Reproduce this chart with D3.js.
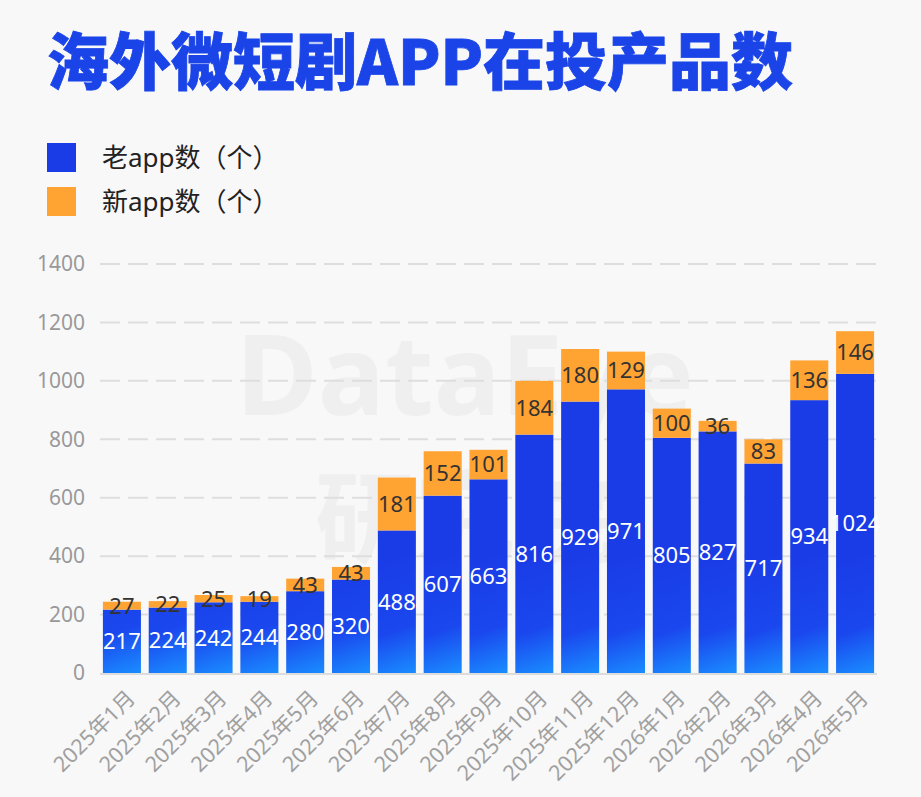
<!DOCTYPE html>
<html>
<head>
<meta charset="utf-8">
<script src="https://cdn.jsdelivr.net/npm/d3@7"></script>
<style>
  html, body { margin: 0; padding: 0; background: #f8f8f9; }
  svg { display: block; font-family: "Noto Sans", "Noto Sans CJK SC", sans-serif; }
</style>
</head>
<body>
<svg id="chart" width="921" height="797"></svg>
<script>
const categories = ["2025年1月","2025年2月","2025年3月","2025年4月","2025年5月","2025年6月","2025年7月","2025年8月","2025年9月","2025年10月","2025年11月","2025年12月","2026年1月","2026年2月","2026年3月","2026年4月","2026年5月"];
const oldApps = [217,224,242,244,280,320,488,607,663,816,929,971,805,827,717,934,1024];
const newApps = [27,22,25,19,43,43,181,152,101,184,180,129,100,36,83,136,146];
const yTicks = [0,200,400,600,800,1000,1200,1400];
const seriesNames = ["老app数（个）","新app数（个）"];
const title = "海外微短剧APP在投产品数";

const BLUE = "#1a3ce6", BLUE_LIGHT = "#1a8dff", ORANGE = "#ffa333";
const FONT = '"Noto Sans", "Noto Sans CJK SC", sans-serif';

const svg = d3.select("#chart");
svg.append("rect").attr("width", 921).attr("height", 797).attr("fill", "#f8f8f9");

// watermark
const wm = svg.append("g").attr("fill", "#000").attr("opacity", 0.03)
  .attr("font-family", FONT).attr("font-weight", 700).attr("text-anchor", "middle");
wm.append("text").attr("x", 465).attr("y", 415).attr("font-size", 112).text("DataEye");
wm.append("text").attr("x", 465).attr("y", 555).attr("font-size", 100).attr("font-family", "Noto Sans CJK SC").text("研究院");

// title
svg.append("text").attr("x", 47).attr("y", 85).attr("font-size", 62).attr("font-weight", 900)
  .attr("font-family", "Noto Sans CJK SC").attr("fill", "#1a44e8")
  .attr("stroke", "#1a44e8").attr("stroke-width", 0.8).text(title);

// legend
const legend = svg.append("g");
[BLUE, ORANGE].forEach((c, i) => {
  const g = legend.append("g").attr("transform", `translate(47, ${143 + i * 44})`);
  g.append("rect").attr("width", 29).attr("height", 29).attr("fill", c);
  g.append("text").attr("x", 55).attr("y", 15).attr("dy", "0.36em").attr("font-size", 26)
    .attr("fill", "#222").text(seriesNames[i]);
});

const x = d3.scaleBand().domain(categories).range([99, 878]).paddingInner(0.17).paddingOuter(0.085);
const y = d3.scaleLinear().domain([0, 1400]).range([673, 264]);

// gridlines
const grid = svg.append("g");
grid.selectAll("line").data(yTicks.filter(d => d > 0)).join("line")
  .attr("x1", 100).attr("x2", 877).attr("y1", d => y(d)).attr("y2", d => y(d))
  .attr("stroke", "#dedede").attr("stroke-width", 2).attr("stroke-dasharray", "20,8");

// y axis labels
const yAxis = svg.append("g").attr("transform", "translate(100,0)")
  .call(d3.axisLeft(y).tickValues(yTicks).tickFormat(d3.format("d")).tickSize(0).tickPadding(15));
yAxis.select(".domain").remove();
yAxis.selectAll("text").attr("font-size", 21).attr("fill", "#999").attr("font-family", FONT);

// gradients
const defs = svg.append("defs");
categories.forEach((c, i) => {
  const x0 = x(c), w = x.bandwidth();
  const g = defs.append("linearGradient").attr("id", "g" + i).attr("gradientUnits", "userSpaceOnUse")
    .attr("x1", x0).attr("y1", y(0) - 110).attr("x2", x0 + w).attr("y2", y(0));
  g.append("stop").attr("offset", 0).attr("stop-color", BLUE);
  g.append("stop").attr("offset", 0.6).attr("stop-color", "#1a48ee");
  g.append("stop").attr("offset", 1).attr("stop-color", BLUE_LIGHT);
});

const data = categories.map((c, i) => ({ c, i, o: oldApps[i], n: newApps[i] }));
const bars = svg.append("g");
bars.selectAll("rect.old").data(data).join("rect").attr("class", "old")
  .attr("x", d => x(d.c)).attr("width", x.bandwidth())
  .attr("y", d => y(d.o)).attr("height", d => y(0) - y(d.o))
  .attr("fill", d => `url(#g${d.i})`);
bars.selectAll("rect.new").data(data).join("rect").attr("class", "new")
  .attr("x", d => x(d.c)).attr("width", x.bandwidth())
  .attr("y", d => y(d.o + d.n)).attr("height", d => y(d.o) - y(d.o + d.n))
  .attr("fill", ORANGE);

// x axis line
svg.append("line").attr("x1", 100).attr("x2", 877).attr("y1", y(0) + 1).attr("y2", y(0) + 1)
  .attr("stroke", "#dcdcdc").attr("stroke-width", 2);

// value labels
const labels = svg.append("g").attr("text-anchor", "middle").attr("font-size", 22).attr("font-family", FONT);
labels.selectAll("text.o").data(data).join("text").attr("class", "o")
  .attr("x", d => x(d.c) + x.bandwidth() / 2).attr("y", d => (y(0) + y(d.o)) / 2)
  .attr("dy", "0.36em").attr("fill", "#fff").text(d => d.o);
labels.selectAll("text.n").data(data).join("text").attr("class", "n")
  .attr("x", d => x(d.c) + x.bandwidth() / 2).attr("y", d => (y(d.o) + y(d.o + d.n)) / 2)
  .attr("dy", "0.36em").attr("fill", "#333").text(d => d.n);

// x labels
const xl = svg.append("g").attr("font-size", 21.5).attr("fill", "#a0a0a0").attr("text-anchor", "end").attr("font-family", FONT);
xl.selectAll("text").data(categories).join("text")
  .attr("transform", c => `translate(${x(c) + x.bandwidth() / 2 + 9}, 694) rotate(-45)`)
  .attr("dy", "0.36em").text(c => c);
</script>
</body>
</html>
